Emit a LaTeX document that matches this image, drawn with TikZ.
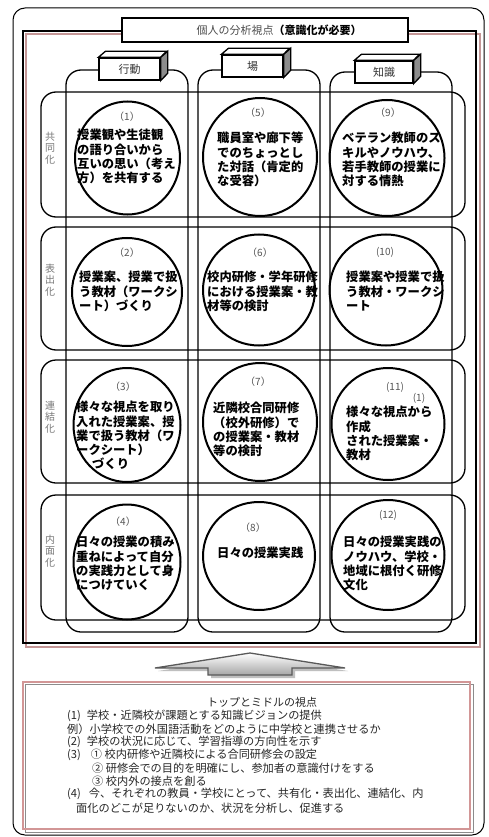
\documentclass[tikz,border=0pt]{standalone}
\usepackage{fontspec}
\newfontfamily\cjk{Noto Sans CJK JP}
\usetikzlibrary{shapes.geometric}
\definecolor{pinkf}{RGB}{196,150,150}
\definecolor{pinkb}{RGB}{210,150,150}
\definecolor{numgray}{RGB}{85,85,85}
\definecolor{lblgray}{RGB}{120,120,120}
\tikzset{
  rowbox/.style={draw=black, line width=1.3pt, rounded corners=15pt},
  colbox/.style={draw=black, line width=1.3pt, rounded corners=15pt},
  circ/.style={draw=black, line width=2pt, ellipse, inner sep=0pt},
  ctext/.style={anchor=north west, inner sep=0pt, align=left, font=\cjk\bfseries\fontsize{12.3}{14.3}\selectfont},
  numlbl/.style={inner sep=0pt, text=numgray, font=\cjk\fontsize{10}{12}\selectfont},
  rowlbl/.style={inner sep=0pt, align=center, text=lblgray, font=\cjk\fontsize{10}{11.7}\selectfont},
  hdrface/.style={draw=black, line width=1.3pt, fill=white, inner sep=0pt, text=black!80, font=\cjk\fontsize{11}{13}\selectfont},
  btext/.style={anchor=west, inner sep=0pt, text=black!85, font=\cjk\fontsize{11.2}{13}\selectfont},
}
\begin{document}
\begin{tikzpicture}[x=1pt,y=-1pt]
\useasboundingbox (0,0) rectangle (488,837);
\fill[white] (0,0) rectangle (488,837);
% outer frame
\draw[line width=1pt, rounded corners=12pt] (13,8) rectangle (484,835);
% inner frame with pink shadow
\draw[pinkf, line width=2pt] (26,34) rectangle (480,647);
\draw[black, line width=2pt] (23,31) rectangle (476,643);
% columns
\draw[colbox] (66,70) rectangle (188,632);
\draw[colbox] (198,70) rectangle (320,632);
\draw[colbox] (330,72) rectangle (452,632);
% rows
\draw[rowbox] (41,92) rectangle (465,217);
\draw[rowbox] (41,227) rectangle (465,350);
\draw[rowbox] (41,360) rectangle (465,483);
\draw[rowbox] (41,495) rectangle (465,620);
% row labels
\node[rowlbl] (r1) at (50,148) {共\\同\\化};
\node[rowlbl] (r2) at (50,280) {表\\出\\化};
\node[rowlbl] (r3) at (50,417) {連\\結\\化};
\node[rowlbl] (r4) at (50,551) {内\\面\\化};
% circles
\node[circ, minimum width=105pt, minimum height=113pt] (c1) at (127.5,158) {};
\node[circ, minimum width=114pt, minimum height=118pt] (c5) at (260,157) {};
\node[circ, minimum width=115pt, minimum height=116pt] (c9) at (387,158) {};
\node[circ, minimum width=110pt, minimum height=108pt] (c2) at (127,292) {};
\node[circ, minimum width=112pt, minimum height=111pt] (c6) at (259,290) {};
\node[circ, minimum width=113pt, minimum height=111pt] (c10) at (386,290) {};
\node[circ, minimum width=107pt, minimum height=114pt] (c3) at (127,425) {};
\node[circ, minimum width=114pt, minimum height=118pt] (c7) at (260,422) {};
\node[circ, minimum width=113pt, minimum height=112pt] (c11) at (388,424) {};
\node[circ, minimum width=107pt, minimum height=115pt] (c4) at (127,562) {};
\node[circ, minimum width=112pt, minimum height=108pt] (c8) at (259,556) {};
\node[circ, minimum width=113pt, minimum height=110pt] (c12) at (388,555) {};
% numbers
\node[numlbl] (n1) at (127,117) {（1）};
\node[numlbl] (n5) at (258,113) {（5）};
\node[numlbl] (n9) at (388,113) {（9）};
\node[numlbl] (n2) at (127,253) {（2）};
\node[numlbl] (n6) at (260,253) {（6）};
\node[numlbl] (n10) at (385,252) {(10)};
\node[numlbl] (n3) at (123,387) {（3）};
\node[numlbl] (n7) at (258,382) {（7）};
\node[numlbl] (n11) at (395,387) {(11)};
\node[numlbl] (n4) at (123,522) {（4）};
\node[numlbl] (n8) at (253,528) {（8）};
\node[numlbl] (n12) at (388,515) {(12)};
% circle texts
\node[ctext] (t1) at (77,129) {授業観や生徒観\\の語り合いから\\互いの思い（考え\\方）を共有する};
\node[ctext] (t5) at (217,132) {職員室や廊下等\\でのちょっとし\\た対話（肯定的\\な受容）};
\node[ctext] (t9) at (342,132) {ベテラン教師のス\\キルやノウハウ、\\若手教師の授業に\\対する情熱};
\node[ctext] (t2) at (79,271) {授業案、授業で扱\\う教材（ワークシ\\ート）づくり};
\node[ctext] (t6) at (207,271) {校内研修・学年研修\\における授業案・教\\材等の検討};
\node[ctext] (t10) at (346,271) {授業案や授業で扱\\う教材・ワークシ\\ート};
\node[ctext] (t3) at (76,401) {様々な視点を取り\\入れた授業案、授\\業で扱う教材（ワ\\ークシート）\\\hspace*{1.3em}づくり};
\node[ctext] (t7) at (213,402) {近隣校合同研修\\（校外研修）で\\の授業案・教材\\等の検討};
\node[ctext] (t11) at (346,406) {様々な視点から\\作成\\された授業案・\\教材};
\node[numlbl] (n11b) at (419,398) {(1)};
\node[ctext] (t4) at (76,536) {日々の授業の積み\\重ねによって自分\\の実践力として身\\につけていく};
\node[ctext] (t8) at (217,547) {日々の授業実践};
\node[ctext] (t12) at (343,536) {日々の授業実践の\\ノウハウ、学校・\\地域に根付く研修\\文化};
% header cubes
\foreach \nm/\cx/\cy/\w/\txt in {h1/129.5/69/61/行動, h2/252.5/66/61/場, h3/384/72/58/知識}{
  \node[hdrface, minimum width=\w pt, minimum height=22pt] (\nm) at (\cx,\cy) {\txt};
  \draw[line width=1.3pt, fill=white] (\nm.north west) -- ++(7,-6) -- ++(\w,0) -- (\nm.north east) -- cycle;
  \draw[line width=1.3pt, fill=black!45] (\nm.north east) -- ++(7,-6) -- ++(0,22) -- (\nm.south east) -- cycle;
}
% title
\node[draw=black, line width=1.2pt, fill=white, minimum width=286pt, minimum height=24pt, inner sep=0pt] (title) at (265,30) {};
\node[inner sep=0pt, font=\cjk\fontsize{11}{13}\selectfont] (titletxt) at (279,30) {\textcolor{black!70}{個人の分析視点}\textbf{（意識化が必要）}};
% arrow
\fill[black!25] (253,656) -- (348,671) -- (295,671) -- (295,678) -- (211,678) -- (211,671) -- (158,671) -- cycle;
\draw[draw=black!65, line width=1.3pt, top color=white, bottom color=black!35] (250,653) -- (345,668) -- (292,668) -- (292,675) -- (208,675) -- (208,668) -- (155,668) -- cycle;
% bottom box
\draw[black!45, line width=0.8pt] (25,684) rectangle (473,832);
\draw[pinkb, line width=2.5pt] (23,682) rectangle (470,829);
\node[inner sep=0pt, text=black!85, font=\cjk\fontsize{11}{13}\selectfont] (btitle) at (262,702) {トップとミドルの視点};
\node[btext] (b1) at (67,716) {(1)\hspace{6pt}学校・近隣校が課題とする知識ビジョンの提供};
\node[btext] (b2) at (67,729) {例）小学校での外国語活動をどのように中学校と連携させるか};
\node[btext] (b3) at (67,742) {(2)\hspace{6pt}学校の状況に応じて、学習指導の方向性を示す};
\node[btext] (b4) at (67,755) {(3)\hspace{10pt}① 校内研修や近隣校による合同研修会の設定};
\node[btext] (b5) at (92,768) {② 研修会での目的を明確にし、参加者の意識付けをする};
\node[btext] (b6) at (92,781) {③ 校内外の接点を創る};
\node[btext] (b7) at (67,794) {(4)\hspace{8pt}今、それぞれの教員・学校にとって、共有化・表出化、連結化、内};
\node[btext] (b8) at (76,808) {面化のどこが足りないのか、状況を分析し、促進する};
\end{tikzpicture}
\end{document}
